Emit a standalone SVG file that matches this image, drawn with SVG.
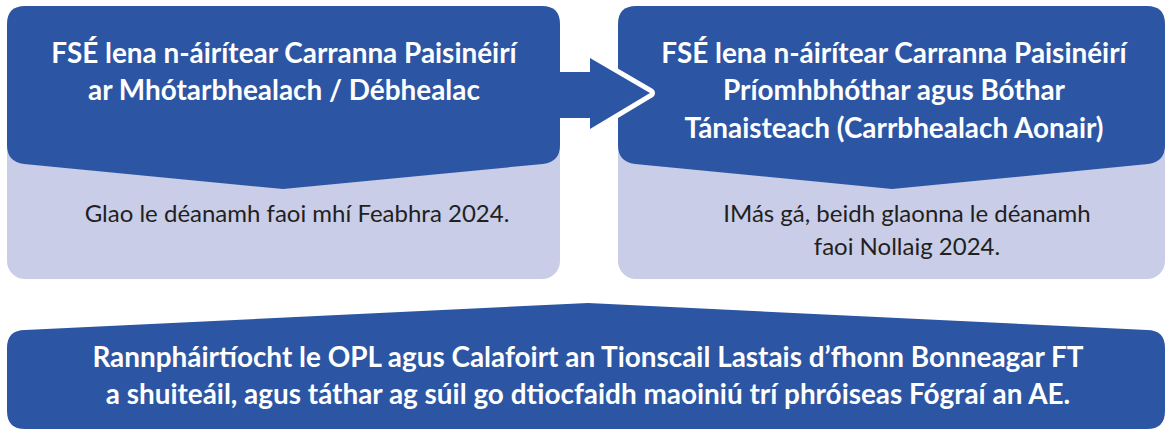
<svg xmlns="http://www.w3.org/2000/svg" width="1166" height="430" viewBox="0 0 1166 430">
<style>
.blue{fill:#2c56a3}
.light{fill:#c9cde7}
.title{font-family:Lato,"Liberation Sans",sans-serif;font-weight:bold;font-size:27.9px;fill:#ffffff;text-anchor:middle}
.body{font-family:Lato,"Liberation Sans",sans-serif;font-size:24px;fill:#231f20;text-anchor:middle}
</style>
<rect width="1166" height="430" fill="#ffffff"/>
<g id="node-left">
<rect class="light" x="7" y="100" width="553" height="179" rx="18"/>
<path class="blue" d="M7,24 Q7,6 25,6 L542,6 Q560,6 560,24 L560,145 Q560,162 543,164 L283,189 L24,164 Q7,162 7,145 Z"/>
<text class="title" x="284" y="63">FSÉ lena n-áirítear Carranna Paisinéirí</text>
<text class="title" x="284" y="100">ar Mhótarbhealach / Débhealac</text>
<text class="body" x="297" y="222">Glao le déanamh faoi mhí Feabhra 2024.</text>
</g>
<g id="node-right">
<rect class="light" x="618" y="100" width="547" height="179" rx="18"/>
<path class="blue" d="M618,24 Q618,6 636,6 L1147,6 Q1165,6 1165,24 L1165,145 Q1165,162 1148,164 L892,189 L635,164 Q618,162 618,145 Z"/>
<text class="title" x="894" y="63">FSÉ lena n-áirítear Carranna Paisinéirí</text>
<text class="title" x="894" y="100">Príomhbhóthar agus Bóthar</text>
<text class="title" x="894" y="138">Tánaisteach (Carrbhealach Aonair)</text>
<text class="body" x="907" y="222">IMás gá, beidh glaonna le déanamh</text>
<text class="body" x="907" y="255">faoi Nollaig 2024.</text>
</g>
<g id="node-bottom">
<path class="blue" d="M7,348 Q7,330 25,330 L588,303 L1147,330 Q1165,330 1165,348 L1165,411 Q1165,429 1147,429 L25,429 Q7,429 7,411 Z"/>
<text class="title" x="588" y="367">Rannpháirtíocht le OPL agus Calafoirt an Tionscail Lastais d’fhonn Bonneagar FT</text>
<text class="title" x="588" y="404">a shuiteáil, agus táthar ag súil go dtiocfaidh maoiniú trí phróiseas Fógraí an AE.</text>
</g>
<g id="connectors">
<polygon points="590,58 650,93 590,129" fill="#ffffff" stroke="#ffffff" stroke-width="10" stroke-linejoin="round"/>
<polygon class="blue" points="558,72 590,72 590,58 650,93 590,129 590,118 558,118"/>
</g>
</svg>
